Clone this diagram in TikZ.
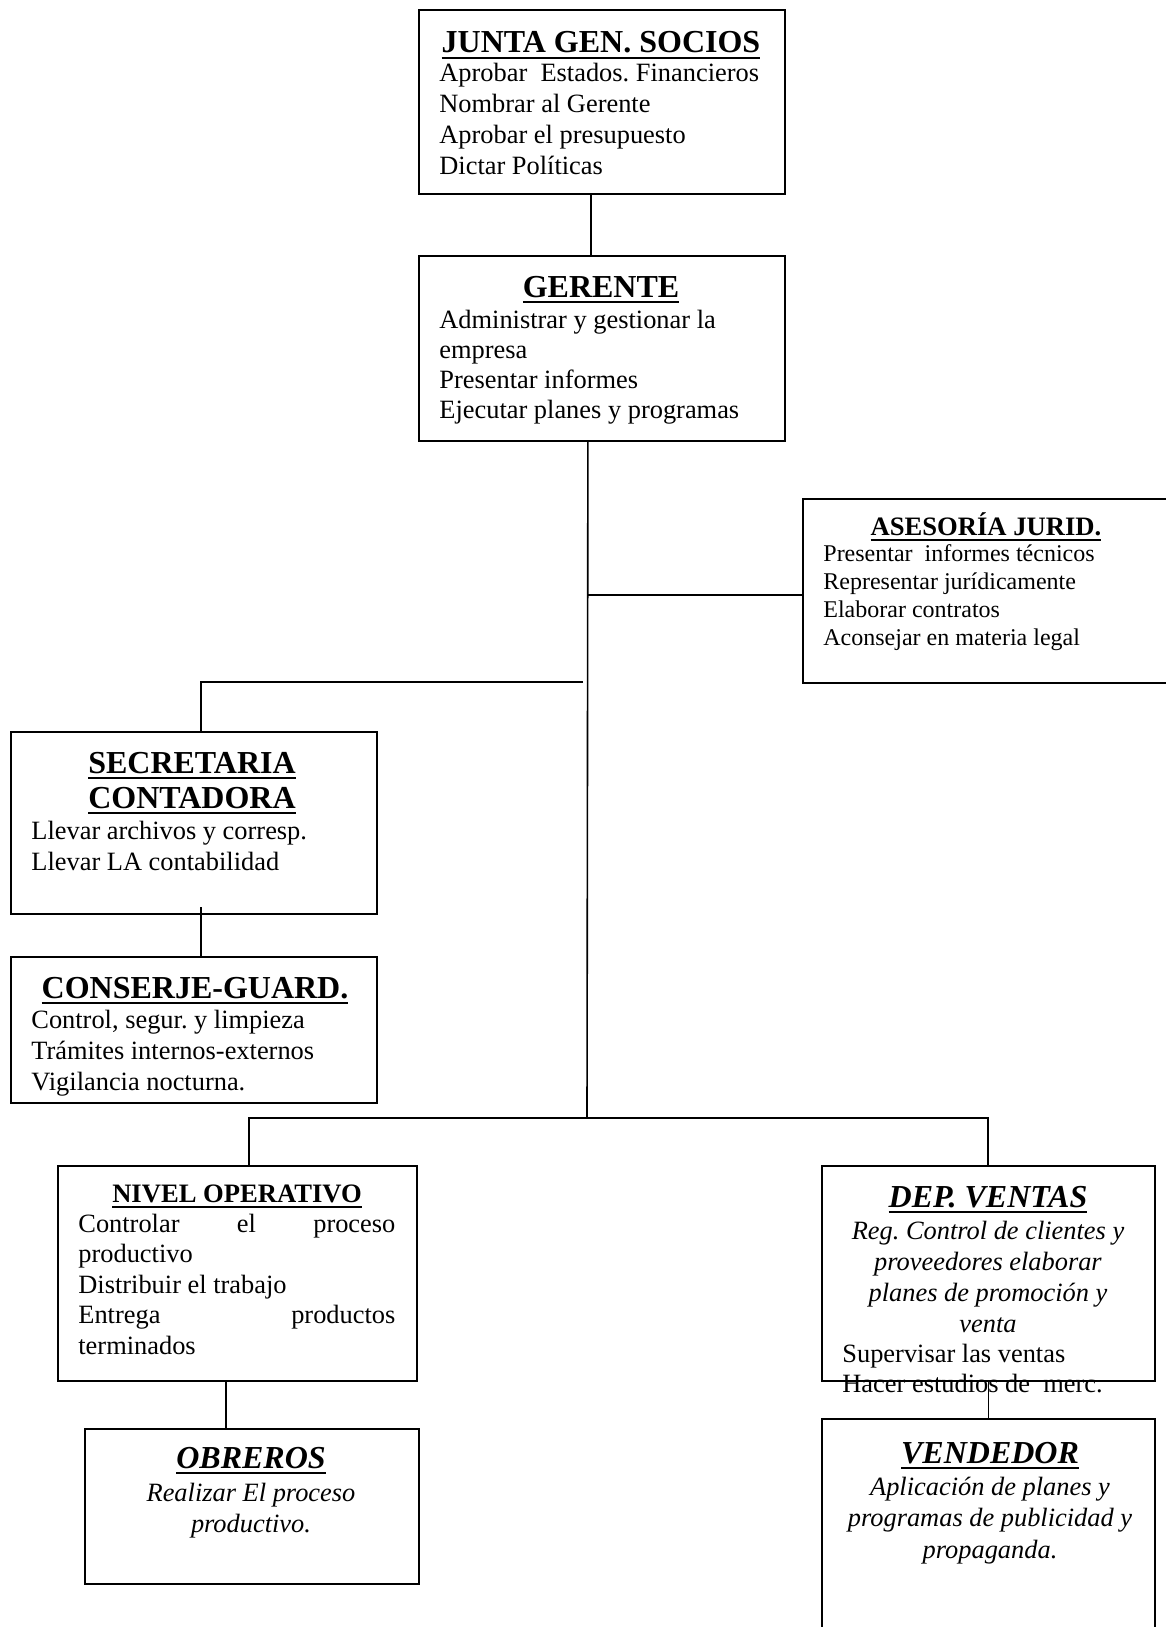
\documentclass[tikz,border=0pt]{standalone}
\usepackage{fontspec}
\setmainfont{Liberation Serif}
\frenchspacing
\newcommand\myUL[1]{\setbox0=\hbox{#1}\rlap{\rule[-2.8pt]{\wd0}{0.9pt}}\box0}
\newcommand\cln[1]{\hbox to 0pt{\hss#1\hss}}
\newcommand\lln[1]{\hbox{#1}}
\begin{document}
\begin{tikzpicture}[x=0.5pt,y=-0.5pt,
 box/.style={draw, line width=0.9pt, inner sep=0pt, anchor=north west},
 conn/.style={line width=0.8pt},
 ttlA/.style={inner sep=0pt, anchor=base, font=\fontsize{16}{18}\selectfont\bfseries\frenchspacing},
 ttlB/.style={inner sep=0pt, anchor=base, font=\fontsize{13.3}{15}\selectfont\bfseries\frenchspacing},
 ttlC/.style={inner sep=0pt, anchor=base, font=\fontsize{16}{18}\selectfont\bfseries\itshape\frenchspacing},
 bodyL/.style={inner sep=0pt, anchor=base west, font=\fontsize{13.2}{15.5}\selectfont\frenchspacing},
 bodyM/.style={inner sep=0pt, anchor=base west, font=\fontsize{13.2}{15}\selectfont\frenchspacing},
 bodyN/.style={inner sep=0pt, anchor=base west, font=\fontsize{13.2}{15.25}\selectfont\frenchspacing},
 bodyS/.style={inner sep=0pt, anchor=base west, font=\fontsize{12}{14.15}\selectfont\frenchspacing},
 bodyI/.style={inner sep=0pt, anchor=base, font=\fontsize{13.2}{15.5}\selectfont\itshape\frenchspacing},
 bodyV/.style={inner sep=0pt, anchor=base, font=\fontsize{13.2}{15.75}\selectfont\itshape\frenchspacing}
]
\useasboundingbox (0,0) rectangle (1166,1627);
\clip (0,0) rectangle (1166,1627);

% boxes
\node[box, minimum width=183pt, minimum height=92pt] (junta) at (418,9) {};
\node[box, minimum width=183pt, minimum height=92.5pt] (gerente) at (418,255) {};
\node[box, minimum width=186.5pt, minimum height=92pt] (asesoria) at (802,498) {};
\node[box, minimum width=183pt, minimum height=91pt] (secretaria) at (10,731) {};
\node[box, minimum width=183pt, minimum height=73pt] (conserje) at (10,956) {};
\node[box, minimum width=179.5pt, minimum height=107.5pt] (nivel) at (57,1165) {};
\node[box, minimum width=167pt, minimum height=77.5pt] (obreros) at (84,1428) {};
\node[box, minimum width=166.5pt, minimum height=107.5pt] (ventas) at (821,1165) {};
\node[box, minimum width=166.5pt, minimum height=111pt] (vendedor) at (821,1418) {};

% connectors
\draw[conn] ([xshift=-5.5pt]junta.south) -- ([xshift=-5.5pt]gerente.north);
\coordinate (tk) at (587,1118);
\draw[conn] ([xshift=-7pt]gerente.south) -- (tk);
\coordinate (aj) at (587,595);
\draw[conn] (aj) -- (aj -| asesoria.west);
\coordinate (sl) at (583,682);
\coordinate (sc) at (201,682);
\draw[conn] (sl) -- (sc) -- (sc |- secretaria.north);
\coordinate (sx) at (201,907);
\draw[conn] (sx) -- (sx |- conserje.north);
\coordinate (bl) at (249,1118);
\coordinate (br) at (988,1118);
\draw[conn] (bl |- nivel.north) -- (bl) -- (br) -- (br |- ventas.north);
\coordinate (no) at (226,1380);
\draw[conn] (no |- nivel.south) -- (no |- obreros.north);
\draw[conn] (ventas.south) -- (vendedor.north);

% JUNTA
\node[ttlA] (tjunta) at (601,53) {\myUL{JUNTA GEN. SOCIOS}};
\node[bodyL] (bjunta) at (439,82) {\vtop{\lln{Aprobar\ \ Estados. Financieros}\lln{Nombrar al Gerente}\lln{Aprobar el presupuesto}\lln{Dictar Políticas}}};

% GERENTE
\node[ttlA] (tgerente) at (601,297) {\myUL{GERENTE}};
\node[bodyM] (bgerente) at (439,328) {\vtop{\lln{Administrar y gestionar la}\lln{empresa}\lln{Presentar informes}\lln{Ejecutar planes y programas}}};

% ASESORIA
\node[ttlB] (tasesoria) at (986,535) {\myUL{ASESORÍA JURID.}};
\node[bodyS] (basesoria) at (823,561) {\vtop{\lln{Presentar\ \ informes técnicos}\lln{Representar jurídicamente}\lln{Elaborar contratos}\lln{Aconsejar en materia legal}}};

% SECRETARIA
\node[ttlA] (tsec1) at (192,773) {\myUL{SECRETARIA}};
\node[ttlA] (tsec2) at (192,808) {\myUL{CONTADORA}};
\node[bodyL] (bsec) at (31,839) {\vtop{\lln{Llevar archivos y corresp.}\lln{Llevar LA contabilidad}}};

% CONSERJE
\node[ttlA] (tcons) at (195,998) {\myUL{CONSERJE-GUARD.}};
\node[bodyL] (bcons) at (31,1028) {\vtop{\lln{Control, segur. y limpieza}\lln{Trámites internos-externos}\lln{Vigilancia nocturna.}}};

% NIVEL OPERATIVO
\node[ttlB] (tnivel) at (237,1202) {\myUL{NIVEL OPERATIVO}};
\node[bodyN] (bnivel) at (78,1232) {\vtop{\hbox to 158.5pt{Controlar\hfil el\hfil proceso}\lln{productivo}\lln{Distribuir el trabajo}\hbox to 158.5pt{Entrega\hfil productos}\lln{terminados}}};

% OBREROS
\node[ttlC] (tobreros) at (251,1468) {\myUL{OBREROS}};
\node[bodyI] (bobreros) at (251,1501) {\vtop{\cln{Realizar El proceso}\cln{productivo.}}};

% DEP. VENTAS
\node[ttlC] (tventas) at (988,1207) {\myUL{DEP. VENTAS}};
\node[bodyI] (bventas) at (988,1239) {\vtop{\cln{Reg. Control de clientes y}\cln{proveedores elaborar}\cln{planes de promoción y}\cln{venta}}};
\node[bodyM] (bventas2) at (842,1362) {\vtop{\lln{Supervisar las ventas}\lln{Hacer estudios de\ \ merc.}}};

% VENDEDOR
\node[ttlC] (tvendedor) at (990,1463) {\myUL{VENDEDOR}};
\node[bodyV] (bvendedor) at (990,1495) {\vtop{\cln{Aplicación de planes y}\cln{programas de publicidad y}\cln{propaganda.}}};
\end{tikzpicture}
\end{document}
